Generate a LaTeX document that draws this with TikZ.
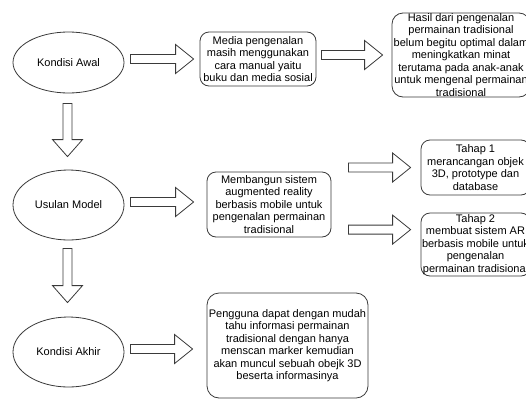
\documentclass[tikz,border=0pt]{standalone}
\usepackage{fontspec}
\setmainfont{Liberation Sans}
\usetikzlibrary{calc,shapes.geometric}

% outline colour shared by every shape
\definecolor{edge}{HTML}{3A3A3A}

\tikzset{
  base/.style={draw=edge, line width=0.8pt, fill=white, inner sep=0pt,
    font=\fontsize{11}{12.5}\selectfont, text=black, align=center},
  oval/.style={base, ellipse, minimum width=111pt},
  card/.style={base, rectangle, rounded corners=9pt},
  blk/.style={draw=edge, line width=0.8pt, fill=white, line join=miter},
}

% hollow block arrow pointing right, from tail point to tip point
\newcommand\harrow[2]{%
  \draw[blk] let \p1=(#1), \p2=(#2) in
    (\x1,\y1+4.5pt) -- (\x2-18pt,\y1+4.5pt) -- (\x2-18pt,\y1+14.5pt) --
    (\x2,\y1) -- (\x2-18pt,\y1-14.5pt) -- (\x2-18pt,\y1-4.5pt) --
    (\x1,\y1-4.5pt) -- cycle;}
% hollow block arrow pointing down, from tail point to tip point
\newcommand\varrow[2]{%
  \draw[blk] let \p1=(#1), \p2=(#2) in
    (\x1-4.5pt,\y1) -- (\x1-4.5pt,\y2+17pt) -- (\x1-15pt,\y2+17pt) --
    (\x1,\y2) -- (\x1+15pt,\y2+17pt) -- (\x1+4.5pt,\y2+17pt) --
    (\x1+4.5pt,\y1) -- cycle;}

\begin{document}
\begin{tikzpicture}[x=1pt, y=-1pt]
\useasboundingbox (0,0) rectangle (526,399);
\clip (0,0) rectangle (526,399);

% left column: the three conditions
\node[oval, minimum height=61pt] (awal)   at (68.5,62.5) {Kondisi Awal};
\node[oval, minimum height=70pt] (usulan) at (68.5,205)  {Usulan Model};
\node[oval, minimum height=70pt] (akhir)  at (68.5,352)  {Kondisi Akhir};

% description cards
\node[card, minimum width=116pt, minimum height=54pt] (media) at (258,59)
  {Media pengenalan\\masih menggunakan\\cara manual yaitu\\buku dan media sosial};
\node[card, rounded corners=11pt, minimum width=138pt, minimum height=84pt] (hasil) at (461,55)
  {Hasil dari pengenalan\\permainan tradisional\\belum begitu optimal dalam\\meningkatkan minat\\terutama pada anak-anak\\untuk mengenal permainan\\tradisional};
\node[card, minimum width=124pt, minimum height=65pt] (bangun) at (269,204.5)
  {Membangun sistem\\augmented reality\\berbasis mobile untuk\\pengenalan permainan\\tradisional};
\node[card, minimum width=109pt, minimum height=55pt] (tahap1) at (475.5,167.5)
  {Tahap 1\\merancangan objek\\3D, prototype dan\\database};
\node[card, minimum width=109pt, minimum height=63pt] (tahap2) at (475.5,244.5)
  {Tahap 2\\membuat sistem AR\\berbasis mobile untuk\\pengenalan\\permainan tradisional};
\node[card, rounded corners=12pt, minimum width=161pt, minimum height=105pt] (pengguna) at (287.5,345.5)
  {Pengguna dapat dengan mudah\\tahu informasi permainan\\tradisional dengan hanya\\menscan marker kemudian\\akan muncul sebuah obejk 3D\\beserta informasinya};

% block arrows between the shapes
\harrow{$(awal.east |- media.west)+(6,0)$}{$(media.west)+(-6,0)$}
\harrow{$(media.east |- hasil.west)+(5,0)$}{$(hasil.west)+(-9,0)$}
\harrow{$(usulan.east)+(6,-3)$}{$(bangun.west |- usulan.east)+(-13,-3)$}
\harrow{$(bangun.east |- tahap1.west)+(17,0)$}{$(tahap1.west)+(-10,0)$}
\harrow{$(bangun.east |- tahap2.north)+(17,17)$}{$(tahap2.north -| tahap2.west)+(-10,17)$}
\harrow{$(akhir.east)+(6,-3)$}{$(pengguna.west |- akhir.east)+(-14,-3)$}
\varrow{$(awal.south)+(-1,10)$}{$(usulan.north)+(-1,-13)$}
\varrow{$(usulan.south)+(-1,8)$}{$(akhir.north)+(-1,-14)$}
\end{tikzpicture}
\end{document}
